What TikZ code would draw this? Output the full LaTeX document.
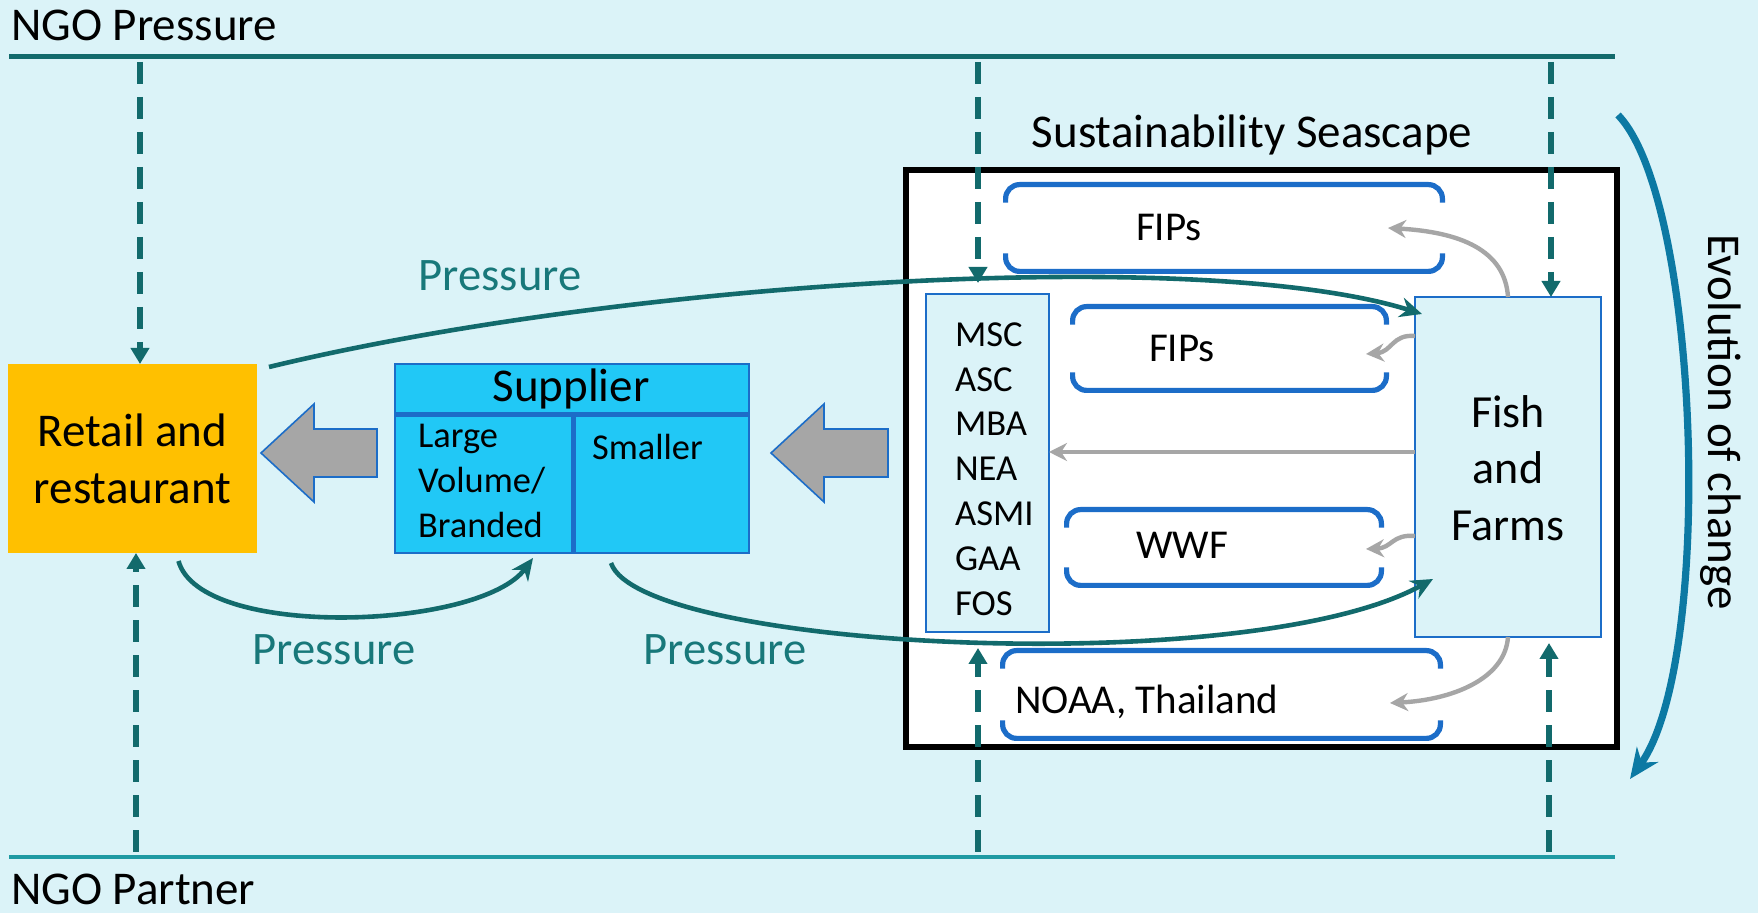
\documentclass[tikz,border=0pt]{standalone}
\usepackage{fontspec}
\setmainfont{Carlito}
\usetikzlibrary{arrows.meta,fit,calc}
\definecolor{bg}{HTML}{DBF3F8}
\definecolor{tealD}{HTML}{126A6C}
\definecolor{tealL}{HTML}{1E9AA3}
\definecolor{gold}{HTML}{FFC000}
\definecolor{cyanF}{HTML}{21C8F6}
\definecolor{blueB}{HTML}{1C6DC8}
\definecolor{grayA}{HTML}{A6A6A6}
\definecolor{evoC}{HTML}{0C79A3}
\definecolor{presT}{HTML}{18787A}
\begin{document}
\begin{tikzpicture}[x=0.5pt,y=-0.5pt,
  big/.style={font=\fontsize{23.5}{28.5}\selectfont},
  fishfont/.style={font=\fontsize{23}{28.3}\selectfont},
  mid/.style={font=\fontsize{18.2}{22.5}\selectfont},
  lst/.style={font=\fontsize{18.3}{22.4}\selectfont},
  brtext/.style={font=\fontsize{20.5}{24}\selectfont},
  pres/.style={font=\fontsize{23.3}{28}\selectfont, text=presT},
  dashsty/.style={draw=tealD, line width=2.6pt, dash pattern=on 11pt off 6.5pt, -{Triangle[width=9pt,length=8pt]}},
  presarr/.style={draw=tealD, line width=2.3pt, -{Stealth[length=11pt,width=10pt]}},
  grayarr/.style={draw=grayA, line width=2.2pt, -{Stealth[length=9pt,width=9pt]}},
  brk/.style={draw=blueB, line width=2.6pt, rounded corners=7pt},
  frame/.style={inner sep=0pt, draw=none},
  blockarr/.style={fill=grayA, draw=blueB, line width=0.8pt},
  box/.style={inner sep=0pt, outer sep=0pt},
]
\path[use as bounding box, fill=bg] (0,0) rectangle (1758,913);

% NGO lines
\node[big, anchor=west] (ngop) at (4,25) {NGO Pressure};
\node[big, anchor=west] (ngopart) at (4,889) {NGO Partner};
\draw[tealD, line width=2.5pt] (9,57) coordinate (tl0) -- (1615,57) coordinate (tl1);
\draw[tealL, line width=1.9pt] (9,857) coordinate (bl0) -- (1615,857) coordinate (bl1);

% Retail
\node[box, minimum width=124.5pt, minimum height=94.5pt, fill=gold, align=center, big] (retail) at (132.5,458.5) {Retail and\\restaurant};

% Supplier
\node[box, minimum width=177pt, minimum height=94.5pt, fill=cyanF, draw=blueB, line width=1pt] (sup) at (572,458.5) {};
\draw[blueB, line width=2.5pt] (sup.west |- 0,415) -- (sup.east |- 0,415);
\draw[blueB, line width=2.5pt] (573,415) -- (sup.south -| 573,0);
\node[big] (suptitle) at (571,389) {Supplier};
\node[mid, anchor=west, align=left] (large) at (411,481) {Large\\Volume/\\Branded};
\node[mid, anchor=west] (smaller) at (585,447) {Smaller};

% block arrows
\draw[blockarr] (261,453) -- (314,404) -- (314,429) -- (377,429) -- (377,477) -- (314,477) -- (314,502) -- cycle;
\draw[blockarr] (771,453) -- (824,404) -- (824,429) -- (888,429) -- (888,477) -- (824,477) -- (824,502) -- cycle;

% Seascape
\node[big] (seatitle) at (1252,135) {Sustainability Seascape};
\node[box, minimum width=355.5pt, minimum height=288.5pt, draw=black, line width=2.8pt, fill=white] (sea) at (1261.5,458.5) {};

\node[box, minimum width=61.5pt, minimum height=169pt, draw=blueB, line width=0.9pt, fill=bg] (msc) at (987.5,463) {};
\node[lst, align=left, anchor=west] (msctext) at (948,469) {MSC\\ASC\\MBA\\NEA\\ASMI\\GAA\\FOS};
\node[box, minimum width=93pt, minimum height=170pt, draw=blueB, line width=0.9pt, fill=bg] (fish) at (1508,467) {};
\node[fishfont, align=center] (fishtext) at (1508,468) {Fish\\and\\Farms};

% brackets
\node[frame, fit={(1006,185)(1442,271)}] (b1) {};
\node[frame, fit={(1073,307)(1386,390)}] (b2) {};
\node[frame, fit={(1067,510)(1381,585)}] (b3) {};
\node[frame, fit={(1003,651)(1440,738)}] (b4) {};
\foreach \b in {b1,b2,b3,b4}{
  \draw[brk] ([yshift=-9pt]\b.north west) -- (\b.north west) -- (\b.north east) -- ([yshift=-9pt]\b.north east);
  \draw[brk] ([yshift=9pt]\b.south west) -- (\b.south west) -- (\b.south east) -- ([yshift=9pt]\b.south east);
}
\node[brtext] (fips1) at (1169,228) {FIPs};
\node[brtext] (fips2) at (1182,349) {FIPs};
\node[brtext] (wwf) at (1182,545) {WWF};
\node[brtext, anchor=west] (noaa) at (1008,702) {NOAA, Thailand};

% gray arrows
\draw[grayarr] (fish.north) .. controls (1505,250) and (1460,232) .. (1388,228) coordinate (g1);
\draw[grayarr] ([yshift=-19.5pt]fish.north west) .. controls (1392,334) and (1392,352) .. (1366,354) coordinate (g2);
\draw[grayarr] ([yshift=50.5pt]fish.south west) .. controls (1392,534) and (1392,548) .. (1366,549) coordinate (g3);
\draw[grayarr] (fish.south) .. controls (1505,680) and (1450,700) .. (1390,703) coordinate (g4);
\draw[grayarr] ([yshift=7.5pt]fish.west) -- ([yshift=7.5pt]fish.west -| msc.east);

% dashed NGO arrows
\draw[dashsty] (140,62) coordinate (d1) -- (d1 |- retail.north);
\draw[dashsty] (978,62) coordinate (d2) -- (978,283) coordinate (d2e);
\draw[dashsty] (1551,62) coordinate (d3) -- (d3 |- fish.north);
\draw[dashsty] (136,852) coordinate (u1) -- (u1 |- retail.south);
\draw[dashsty] (978,852) coordinate (u2) -- (978,648) coordinate (u2e);
\draw[dashsty] (1549,852) coordinate (u3) -- ([yshift=-3pt]u3 |- fish.south);

% pressure arrows
\draw[presarr] ([xshift=6pt,yshift=-1.5pt]retail.north east) .. controls (620,282) and (1200,245) .. ([xshift=3.5pt,yshift=-8.5pt]fish.north west);
\draw[presarr] ([xshift=23pt,yshift=-4pt]retail.south) .. controls (200,640) and (480,630) .. ([xshift=-19.5pt,yshift=-2.5pt]sup.south);
\draw[presarr] ([xshift=19.5pt,yshift=-5pt]sup.south) .. controls (640,650) and (1250,680) .. ([xshift=9pt,yshift=-56pt]fish.west);
\node[pres] (p1) at (500,276) {Pressure};
\node[pres] (p2) at (334,650) {Pressure};
\node[pres] (p3) at (725,650) {Pressure};

% evolution
\draw[evoC, line width=3.6pt, -{Stealth[length=15pt,width=13pt]}] (1618,115) coordinate (e0) .. controls (1700,200) and (1715,660) .. (1630,779) coordinate (e1);
\node[big, rotate=-90] (evotext) at (1721,422) {Evolution of change};
\end{tikzpicture}
\end{document}
